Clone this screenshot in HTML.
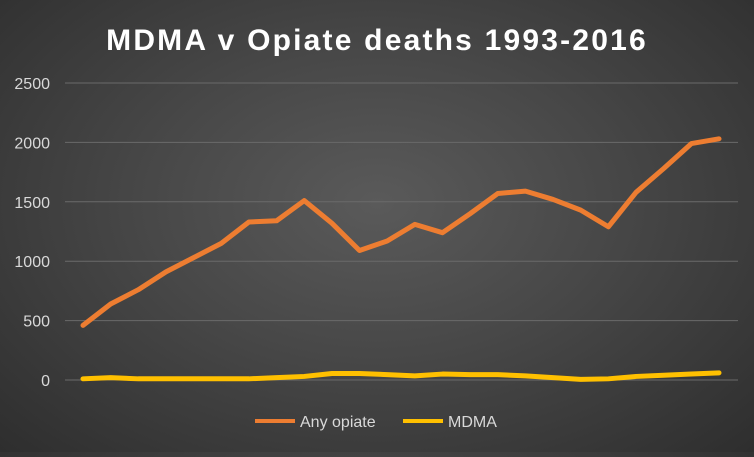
<!DOCTYPE html>
<html><head><meta charset="utf-8"><style>
html,body{margin:0;padding:0;}
body{width:754px;height:452px;overflow:hidden;background:radial-gradient(ellipse at 50% 45%,#5a5a5a 0%,#474747 45%,#2e2e2e 100%);font-family:"Liberation Sans",sans-serif;}
</style></head><body>
<svg id="chart" width="754" height="452" xmlns="http://www.w3.org/2000/svg">
<text x="377" y="50" text-anchor="middle" fill="#ffffff" font-family="Liberation Sans, sans-serif" font-weight="bold" font-size="30" letter-spacing="2.2">MDMA v Opiate deaths 1993-2016</text>
<g id="grid"></g><g id="ylabels"></g><g id="series"></g>
<g>
<line x1="255" y1="421" x2="295" y2="421" stroke="#ed7d31" stroke-width="4"/>
<text x="300" y="427" fill="#d9d9d9" font-size="16">Any opiate</text>
<line x1="403" y1="421" x2="443" y2="421" stroke="#ffc000" stroke-width="4"/>
<text x="448" y="427" fill="#d9d9d9" font-size="16">MDMA</text>
</g>
</svg>
<script>
const years=[1993,1994,1995,1996,1997,1998,1999,2000,2001,2002,2003,2004,2005,2006,2007,2008,2009,2010,2011,2012,2013,2014,2015,2016];
const opiate=[460,640,760,910,1030,1150,1330,1340,1510,1320,1090,1170,1310,1240,1400,1570,1590,1520,1430,1290,1580,1780,1990,2030];
const mdma=[10,20,10,10,10,10,10,20,30,55,55,45,35,50,45,45,35,20,5,10,30,40,50,60];
const yTicks=[0,500,1000,1500,2000,2500];
const NS="http://www.w3.org/2000/svg";
const x0=83,x1=719,y0=380,y1=83,ymax=2500;
const xs=i=>x0+(x1-x0)*i/(years.length-1);
const ys=v=>y0-(y0-y1)*v/ymax;
const grid=document.getElementById('grid'),yl=document.getElementById('ylabels'),ser=document.getElementById('series');
yTicks.forEach(t=>{
 const l=document.createElementNS(NS,'line');
 
 
 l.setAttribute('x1',65);l.setAttribute('x2',738);l.setAttribute('y1',ys(t));l.setAttribute('y2',ys(t));
 l.setAttribute('stroke','#6a6a6a');l.setAttribute('stroke-width','1');grid.appendChild(l);
 const tx=document.createElementNS(NS,'text');
 
 
 tx.setAttribute('x',50);tx.setAttribute('y',ys(t)+6);tx.setAttribute('text-anchor','end');
 tx.setAttribute('fill','#d9d9d9');tx.setAttribute('font-size','16');tx.textContent=t;yl.appendChild(tx);
});
function line(data,color,name){
 const p=document.createElementNS(NS,'polyline');
 
 
 p.setAttribute('points',data.map((v,i)=>xs(i)+','+ys(v)).join(' '));
 p.setAttribute('fill','none');p.setAttribute('stroke',color);p.setAttribute('stroke-width','5');
 p.setAttribute('stroke-linejoin','round');p.setAttribute('stroke-linecap','round');ser.appendChild(p);
}
line(opiate,'#ed7d31','any-opiate-line');
line(mdma,'#ffc000','mdma-line');
</script>
</body></html>
